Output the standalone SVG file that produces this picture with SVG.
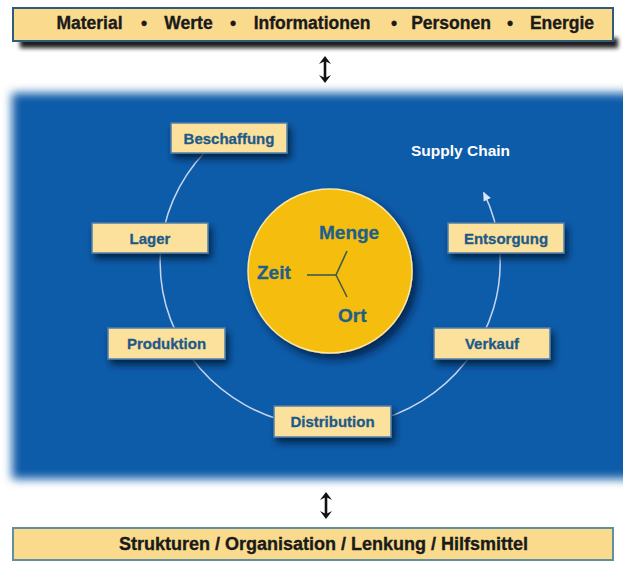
<svg xmlns="http://www.w3.org/2000/svg" width="623" height="561" viewBox="0 0 623 561">
<defs>
<style>
.bar{fill:#FADB8E;}
.bartxt{font-family:"Liberation Sans",Arial,sans-serif;font-weight:bold;fill:#1a1a1a;stroke:#1a1a1a;stroke-width:0.35;text-anchor:middle;}
.box{fill:#FCE19C;stroke:#4F7FA8;stroke-width:1.5;}
.boxtxt{font-family:"Liberation Sans",Arial,sans-serif;font-weight:bold;font-size:15px;fill:#1E5A89;stroke:#1E5A89;stroke-width:0.3;text-anchor:middle;}
.ctxt{font-family:"Liberation Sans",Arial,sans-serif;font-weight:bold;font-size:19px;fill:#1E5F8C;stroke:#1E5F8C;stroke-width:0.3;}
.ring{fill:none;stroke:#C9D5EE;stroke-width:1.5;}
.dbl{stroke:#111;stroke-width:2.6;fill:none;}
.head{fill:#111;}
</style>
<filter id="panelBlur" x="-5%" y="-5%" width="110%" height="110%">
<feGaussianBlur stdDeviation="5"/>
</filter>
<filter id="barShadow" x="-5%" y="-50%" width="110%" height="200%">
<feGaussianBlur stdDeviation="2"/>
</filter>
<filter id="boxShadow" x="-20%" y="-30%" width="150%" height="180%">
<feDropShadow dx="3" dy="5" stdDeviation="3.5" flood-color="#061c3c" flood-opacity="0.9"/>
</filter>
<filter id="circShadow" x="-20%" y="-20%" width="150%" height="150%">
<feDropShadow dx="5" dy="6" stdDeviation="4" flood-color="#061c3c" flood-opacity="0.8"/>
</filter>
<marker id="arrowHead" markerWidth="10" markerHeight="10" refX="8" refY="5" orient="auto" markerUnits="userSpaceOnUse">
<path d="M0,1 L9,5 L0,9 Z" fill="#DDE6F6"/>
</marker>
</defs>

<rect width="623" height="561" fill="#ffffff"/>

<!-- blue panel -->
<rect x="12" y="93" width="630" height="386" fill="#0B5CA9" filter="url(#panelBlur)"/>

<!-- top bar -->
<g id="top-bar">
<rect x="20" y="38" width="598" height="10" fill="#1a1a1a" filter="url(#barShadow)"/>
<rect class="bar" x="13" y="8" width="600" height="33" stroke="#2D5C7C" stroke-width="2"/>
<text class="bartxt" font-size="17.5" x="89.5" y="29">Material</text>
<text class="bartxt" font-size="17.5" x="144" y="29">•</text>
<text class="bartxt" font-size="17.5" x="188.5" y="29">Werte</text>
<text class="bartxt" font-size="17.5" x="233" y="29">•</text>
<text class="bartxt" font-size="17.5" x="312" y="29">Informationen</text>
<text class="bartxt" font-size="17.5" x="394" y="29">•</text>
<text class="bartxt" font-size="17.5" x="451" y="29">Personen</text>
<text class="bartxt" font-size="17.5" x="510" y="29">•</text>
<text class="bartxt" font-size="17.5" x="562" y="29">Energie</text>
</g>

<!-- bottom bar -->
<g id="bottom-bar">
<rect class="bar" x="13" y="528" width="600" height="32" stroke="#5F8FA0" stroke-width="2"/>
<text class="bartxt" font-size="18" x="323.5" y="550">Strukturen / Organisation / Lenkung / Hilfsmittel</text>
</g>

<!-- connectors -->
<g id="connectors">
<g id="arrow-top">
<line class="dbl" x1="325" y1="60" x2="325" y2="79"/>
<path class="head" d="M319,64 L325,56 L331,64 L325,61 Z"/>
<path class="head" d="M319,75 L325,83 L331,75 L325,78 Z"/>
</g>
<g id="arrow-bottom">
<line class="dbl" x1="326" y1="496" x2="326" y2="515"/>
<path class="head" d="M320,500 L326,492 L332,500 L326,497 Z"/>
<path class="head" d="M320,511 L326,519 L332,511 L326,514 Z"/>
</g>
<path id="supply-ring" class="ring" d="M205,152 A170,164 0 1 0 483.7,192.6" marker-end="url(#arrowHead)"/>
</g>

<!-- center circle -->
<g id="center">
<circle cx="330" cy="271" r="82" fill="#F5BD0C" stroke="#F8E7A8" stroke-width="1.5" filter="url(#circShadow)"/>
<g stroke="#3D5A4C" stroke-width="1.6" fill="none">
<line x1="336" y1="275" x2="307" y2="275"/>
<line x1="336" y1="275" x2="347" y2="251"/>
<line x1="336" y1="275" x2="347" y2="297"/>
</g>
<text class="ctxt" x="319" y="239">Menge</text>
<text class="ctxt" x="257" y="279">Zeit</text>
<text class="ctxt" x="338" y="322">Ort</text>
</g>

<text id="supply-chain" x="411" y="156" font-family="Liberation Sans,Arial,sans-serif" font-weight="bold" font-size="15.5" fill="#ffffff">Supply Chain</text>

<g id="beschaffung">
<rect class="box" x="171" y="123" width="116" height="30" filter="url(#boxShadow)"/>
<text class="boxtxt" x="229" y="144">Beschaffung</text>
</g>
<g id="lager">
<rect class="box" x="92" y="223" width="116" height="30" filter="url(#boxShadow)"/>
<text class="boxtxt" x="150" y="244">Lager</text>
</g>
<g id="produktion">
<rect class="box" x="108" y="328" width="117" height="31" filter="url(#boxShadow)"/>
<text class="boxtxt" x="166.5" y="349">Produktion</text>
</g>
<g id="distribution">
<rect class="box" x="274" y="406" width="117" height="31" filter="url(#boxShadow)"/>
<text class="boxtxt" x="332.5" y="427">Distribution</text>
</g>
<g id="verkauf">
<rect class="box" x="434" y="328" width="116" height="31" filter="url(#boxShadow)"/>
<text class="boxtxt" x="492" y="349">Verkauf</text>
</g>
<g id="entsorgung">
<rect class="box" x="448" y="223" width="116" height="30" filter="url(#boxShadow)"/>
<text class="boxtxt" x="506" y="244">Entsorgung</text>
</g>
</svg>
